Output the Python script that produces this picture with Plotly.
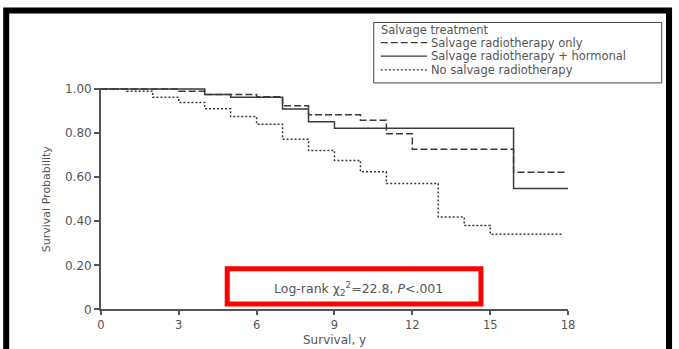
import plotly.graph_objects as go

W, H = 679, 349

# ---------------- data ----------------
series_names = ["Salvage radiotherapy only",
                "Salvage radiotherapy + hormonal",
                "No salvage radiotherapy"]
legend_title = "Salvage treatment"

rt_only_t = [0, 3, 4, 6, 7, 8, 10, 11, 12, 15.9, 17.9]
rt_only_s = [1.0, 0.99, 0.975, 0.965, 0.924, 0.883, 0.858, 0.797, 0.726, 0.622, 0.622]

rt_horm_t = [0, 4, 5, 7, 8, 9, 15.9, 18]
rt_horm_s = [1.0, 0.975, 0.962, 0.909, 0.851, 0.822, 0.548, 0.548]

no_rt_t = [0, 1, 2, 3, 4, 5, 6, 7, 8, 9, 10, 11, 13, 14, 15, 17.8]
no_rt_s = [1.0, 0.99, 0.962, 0.939, 0.91, 0.875, 0.84, 0.772, 0.721, 0.676,
           0.624, 0.571, 0.419, 0.381, 0.341, 0.341]

x_ticks = [0, 3, 6, 9, 12, 15, 18]
y_ticks = [0, 0.2, 0.4, 0.6, 0.8, 1.0]
y_tick_labels = ["0", "0.20", "0.40", "0.60", "0.80", "1.00"]

x_title = "Survival, y"
y_title = "Survival Probability"
stat_text = "Log-rank χ<sub>2</sub><sup>2</sup>=22.8, <i>P</i>&lt;.001"

# ---------------- styling ----------------
FONT = "DejaVu Sans"
TXT = "#555555"
LINE = "#3a3a3a"
dashes = ["7px,3px", "solid", "2px,2px"]

# The photographed page shows the figure offset by the body margin and
# slightly scaled; positions are written in photo pixels and converted here.
OFF, SX, SY = 8, 0.977, 0.956


def fx(r):
    return r / SX - OFF


def fy(r):
    return r / SY - OFF


def px(r):
    return fx(r) / W


def py(r):
    return 1 - fy(r) / H


fig = go.Figure()
for t, s, name, d in zip([rt_only_t, rt_horm_t, no_rt_t],
                         [rt_only_s, rt_horm_s, no_rt_s],
                         series_names, dashes):
    fig.add_trace(go.Scatter(x=t, y=s, mode="lines", name=name,
                             line=dict(shape="hv", color=LINE, width=1.5, dash=d),
                             showlegend=False, hoverinfo="skip"))

shapes = []
annotations = []

# outer black frame (right side kept just inside the figure)
shapes.append(dict(type="rect", xref="paper", yref="paper",
                   x0=px(10), x1=676 / W, y0=-0.2, y1=py(12),
                   line=dict(color="black", width=6), fillcolor="rgba(0,0,0,0)"))

# legend box
shapes.append(dict(type="rect", xref="paper", yref="paper",
                   x0=px(375), x1=px(661), y0=py(84), y1=py(24),
                   line=dict(color="#444444", width=1), fillcolor="white"))
annotations.append(dict(text=legend_title, xref="paper", yref="paper",
                        x=px(380), y=py(31.5), xanchor="left", yanchor="middle",
                        showarrow=False, font=dict(family=FONT, size=11.5, color=TXT)))
row_y = [44, 57.5, 71]
for name, d, ry in zip(series_names, dashes, row_y):
    shapes.append(dict(type="line", xref="paper", yref="paper",
                       x0=px(382), x1=px(428), y0=py(ry), y1=py(ry),
                       line=dict(color=LINE, width=1.3, dash=d)))
    annotations.append(dict(text=name, xref="paper", yref="paper",
                            x=px(430), y=py(ry), xanchor="left", yanchor="middle",
                            showarrow=False, font=dict(family=FONT, size=11.5, color=TXT)))

# red highlight box + statistic
shapes.append(dict(type="rect", xref="paper", yref="paper",
                   x0=px(229.5), x1=px(481.5), y0=py(303.5), y1=py(268.5),
                   line=dict(color="#ff0000", width=5), fillcolor="rgba(0,0,0,0)"))
annotations.append(dict(text=stat_text, xref="paper", yref="paper",
                        x=px(360), y=py(289), xanchor="center", yanchor="middle",
                        showarrow=False, font=dict(family=FONT, size=12.5, color=TXT)))

# axis titles
annotations.append(dict(text=x_title, xref="paper", yref="paper",
                        x=px(336), y=py(339.5), xanchor="center", yanchor="middle",
                        showarrow=False, font=dict(family=FONT, size=12, color=TXT)))
annotations.append(dict(text=y_title, xref="paper", yref="paper",
                        x=px(50), y=py(199), xanchor="center", yanchor="middle",
                        textangle=-90, showarrow=False,
                        font=dict(family=FONT, size=11, color=TXT)))

# plot area: x 0..18 -> photo px 104..568, y 0..1 -> photo px 309..90
ytop = 1.005
y_top_photo = 309 - ytop * (309 - 90)
fig.update_layout(
    width=W, height=H,
    margin=dict(l=0, r=0, t=0, b=0),
    paper_bgcolor="white", plot_bgcolor="white",
    showlegend=False,
    shapes=shapes, annotations=annotations,
    xaxis=dict(domain=[px(104), px(568)], range=[0, 18],
               tickmode="array", tickvals=x_ticks,
               showline=True, linecolor="#555555", linewidth=1.5,
               ticks="outside", ticklen=4, tickwidth=1.5, tickcolor="#555555",
               showgrid=False, zeroline=False,
               tickfont=dict(family=FONT, size=11.5, color=TXT)),
    yaxis=dict(domain=[py(309), py(y_top_photo)], range=[0, ytop],
               tickmode="array", tickvals=y_ticks, ticktext=y_tick_labels,
               showline=True, linecolor="#555555", linewidth=1.5,
               ticks="outside", ticklen=5, tickwidth=1.5, tickcolor="#555555",
               showgrid=False, zeroline=False,
               tickfont=dict(family=FONT, size=12, color=TXT)),
)

fig.write_html("out.html")
